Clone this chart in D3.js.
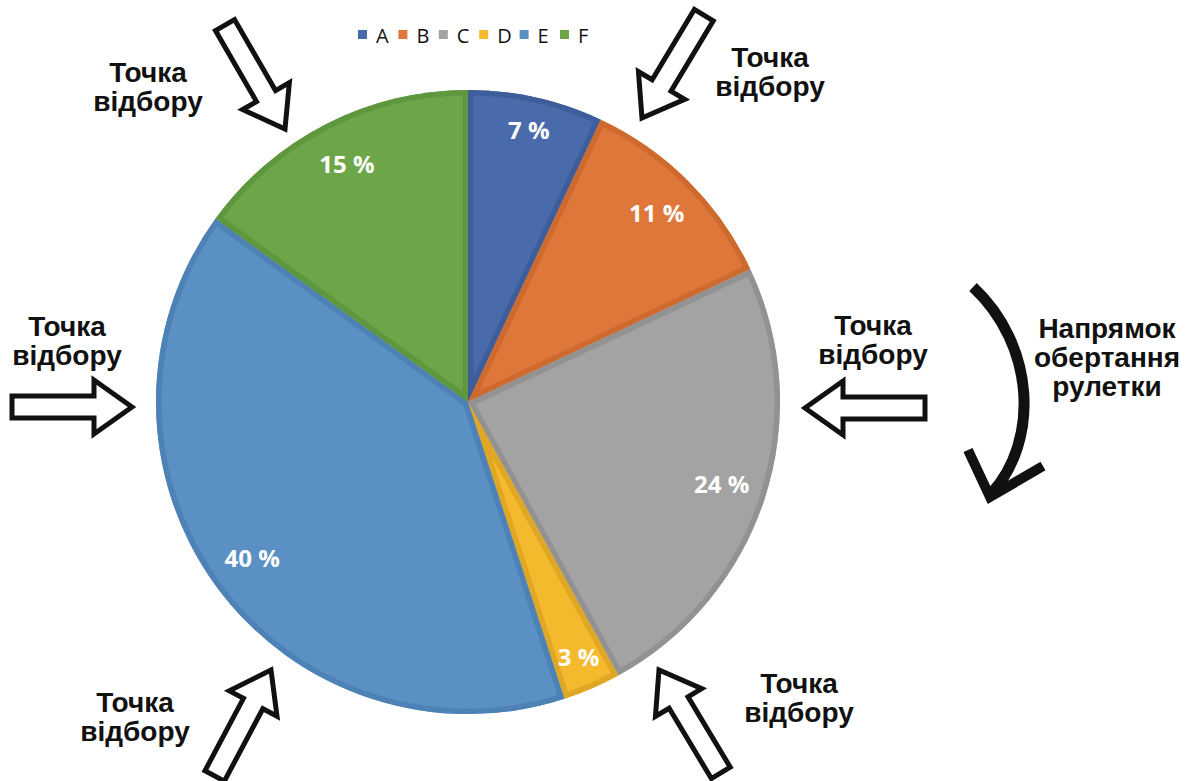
<!DOCTYPE html>
<html>
<head>
<meta charset="utf-8">
<script src="https://cdn.jsdelivr.net/npm/d3@7"></script>
<style>
  html, body { margin: 0; padding: 0; background: #ffffff; }
  svg { display: block; }
</style>
</head>
<body>
<svg id="chart" width="1198" height="781"></svg>
<script>
// Roulette wheel selection: share of each individual on the wheel
const categories = ["A", "B", "C", "D", "E", "F"];
const shares = [7, 11, 24, 3, 40, 15];
const fillColors = ["#4a6bab", "#e0773a", "#a3a3a3", "#f4b92d", "#5b90c4", "#6ca649"];
const edgeColors = ["#3e5d9b", "#cf6a2f", "#929292", "#dfa724", "#4e82b6", "#5e973e"];
const pointerText = ["Точка", "відбору"];
const spinText = ["Напрямок", "обертання", "рулетки"];

const svg = d3.select("#chart");
const cx = 468, cy = 402, R = 312;

const data = categories.map((c, i) => ({ cat: c, value: shares[i], i }));

const pie = d3.pie().value(d => d.value).sort(null);
const arc = d3.arc().innerRadius(0).outerRadius(R);
// narrow slices carry their label closer to the rim
const labelArc = d3.arc().innerRadius(R * 0.855).outerRadius(R * 0.855);
const labelArcNarrow = d3.arc().innerRadius(R * 0.893).outerRadius(R * 0.893);
const color = d3.scaleOrdinal().domain(categories).range(fillColors);
const edge = d3.scaleOrdinal().domain(categories).range(edgeColors);

const arcs = pie(data);
const defs = svg.append("defs");

arcs.forEach((a, k) => {
  defs.append("clipPath").attr("id", "clip-" + k)
    .append("path").attr("d", arc(a));
});

const g = svg.append("g").attr("transform", `translate(${cx},${cy})`);

const slices = g.selectAll("g.slice").data(arcs).join("g").attr("class", "slice");

// slice body
slices.append("path")
  .attr("d", arc)
  .attr("fill", d => color(d.data.cat));

// darker inner rim along each slice's edges
slices.append("path")
  .attr("d", arc)
  .attr("fill", "none")
  .attr("stroke", d => edge(d.data.cat))
  .attr("stroke-width", 11)
  .attr("stroke-linejoin", "round")
  .attr("clip-path", (d, k) => `url(#clip-${k})`);

// percentage labels
slices.append("text")
  .attr("transform", d => {
    const a = d.data.value < 10 ? labelArcNarrow : labelArc;
    const [x, y] = a.centroid(d);
    return `translate(${x},${y})`;
  })
  .attr("text-anchor", "middle")
  .attr("dy", "0.36em")
  .attr("font-family", "'Open Sans', sans-serif")
  .attr("font-weight", 700)
  .attr("font-size", 24)
  .attr("fill", "#ffffff")
  .text(d => d.data.value + " %");

// legend
const legendX = 358, legendStep = 40.4, legendY = 35;
const legend = svg.append("g").attr("class", "legend");
const items = legend.selectAll("g").data(categories).join("g")
  .attr("transform", (d, i) => `translate(${legendX + i * legendStep},${legendY})`);
items.append("rect")
  .attr("x", 0).attr("y", -5).attr("width", 9).attr("height", 9)
  .attr("fill", d => color(d));
items.append("text")
  .attr("x", 18).attr("y", 8)
  .attr("font-family", "'Open Sans', sans-serif")
  .attr("font-size", 20)
  .attr("fill", "#111111")
  .text(d => d);

// block arrow, tip at origin pointing along +x
const arrowShape = [[0, 0], [-38, -27], [-38, -11], [-120, -11], [-120, 11], [-38, 11], [-38, 27]];
const arrowPath = "M" + arrowShape.map(p => p.join(",")).join("L") + "Z";

const pointers = [
  { tip: [285, 129], angle: 60,  label: [148, 82] },
  { tip: [642, 118], angle: 121, label: [770, 67] },
  { tip: [132, 407], angle: 0,   label: [67, 336] },
  { tip: [805, 408], angle: 180, label: [873, 335] },
  { tip: [271, 670], angle: -62, label: [135, 712] },
  { tip: [659, 670], angle: -121, label: [799, 693] }
];

const ptr = svg.append("g").attr("class", "pointers");
ptr.selectAll("path").data(pointers).join("path")
  .attr("d", arrowPath)
  .attr("transform", d => `translate(${d.tip[0]},${d.tip[1]}) rotate(${d.angle})`)
  .attr("fill", "#ffffff")
  .attr("stroke", "#111111")
  .attr("stroke-width", 5)
  .attr("stroke-linejoin", "miter");

const ptrText = ptr.selectAll("text").data(pointers).join("text")
  .attr("x", d => d.label[0])
  .attr("y", d => d.label[1])
  .attr("text-anchor", "middle")
  .attr("font-family", "'Liberation Sans', Arial, sans-serif")
  .attr("font-weight", 700)
  .attr("font-size", 28)
  .attr("fill", "#111111");
ptrText.each(function (d) {
  const t = d3.select(this);
  pointerText.forEach((line, j) => {
    t.append("tspan").attr("x", d.label[0]).attr("dy", j === 0 ? 0 : 29).text(line);
  });
});

// rotation direction marker
const spin = svg.append("g").attr("class", "spin");
spin.append("path")
  .attr("d", "M973,287 C1035,345 1040,440 991,494")
  .attr("fill", "none")
  .attr("stroke", "#111111")
  .attr("stroke-width", 11)
  .attr("stroke-linecap", "butt");
spin.append("path")
  .attr("d", "M968,450 L990,497 L1043,466")
  .attr("fill", "none")
  .attr("stroke", "#111111")
  .attr("stroke-width", 10)
  .attr("stroke-linejoin", "miter");

const spinLabel = spin.append("text")
  .attr("x", 1107).attr("y", 338)
  .attr("text-anchor", "middle")
  .attr("font-family", "'Liberation Sans', Arial, sans-serif")
  .attr("font-weight", 700)
  .attr("font-size", 28)
  .attr("fill", "#111111");
spinText.forEach((line, j) => {
  spinLabel.append("tspan").attr("x", 1107).attr("dy", j === 0 ? 0 : 29).text(line);
});
</script>
</body>
</html>
